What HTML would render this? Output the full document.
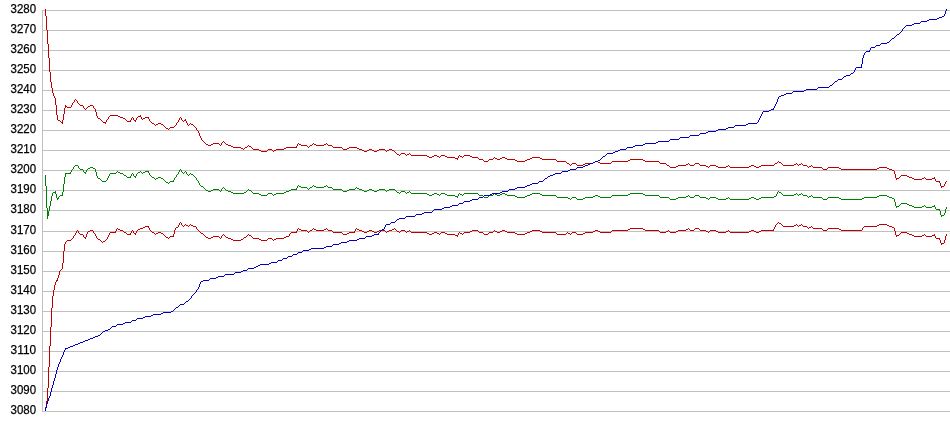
<!DOCTYPE html>
<html><head><meta charset="utf-8"><title>Chart</title>
<style>html,body{margin:0;padding:0;background:#fff;overflow:hidden}body{width:950px;height:435px}</style>
</head><body>
<svg width="950" height="435" viewBox="0 0 950 435" style="display:block">
<rect width="950" height="435" fill="#fff"/>
<g shape-rendering="crispEdges" stroke="#c0c0c0" stroke-width="1" fill="none">
<path d="M42 10.5H950M42 30.5H950M42 50.5H950M42 70.5H950M42 90.5H950M42 110.5H950M42 130.5H950M42 150.5H950M42 170.5H950M42 190.5H950M42 210.5H950M42 231.5H950M42 251.5H950M42 271.5H950M42 291.5H950M42 311.5H950M42 331.5H950M42 351.5H950M42 371.5H950M42 391.5H950M42 411.5H950M42.5 10V412"/>
</g>
<g font-family="'Liberation Sans', Arial, sans-serif" font-size="12" fill="#000" stroke="#000" stroke-width="0.25" style="filter:grayscale(1)">
<text x="10.6" y="13.3" textLength="25.5" lengthAdjust="spacingAndGlyphs">3280</text>
<text x="10.6" y="33.3" textLength="25.5" lengthAdjust="spacingAndGlyphs">3270</text>
<text x="10.6" y="53.3" textLength="25.5" lengthAdjust="spacingAndGlyphs">3260</text>
<text x="10.6" y="73.3" textLength="25.5" lengthAdjust="spacingAndGlyphs">3250</text>
<text x="10.6" y="93.3" textLength="25.5" lengthAdjust="spacingAndGlyphs">3240</text>
<text x="10.6" y="113.3" textLength="25.5" lengthAdjust="spacingAndGlyphs">3230</text>
<text x="10.6" y="133.3" textLength="25.5" lengthAdjust="spacingAndGlyphs">3220</text>
<text x="10.6" y="153.3" textLength="25.5" lengthAdjust="spacingAndGlyphs">3210</text>
<text x="10.6" y="173.3" textLength="25.5" lengthAdjust="spacingAndGlyphs">3200</text>
<text x="10.6" y="193.3" textLength="25.5" lengthAdjust="spacingAndGlyphs">3190</text>
<text x="10.6" y="213.3" textLength="25.5" lengthAdjust="spacingAndGlyphs">3180</text>
<text x="10.6" y="234.3" textLength="25.5" lengthAdjust="spacingAndGlyphs">3170</text>
<text x="10.6" y="254.3" textLength="25.5" lengthAdjust="spacingAndGlyphs">3160</text>
<text x="10.6" y="274.3" textLength="25.5" lengthAdjust="spacingAndGlyphs">3150</text>
<text x="10.6" y="294.3" textLength="25.5" lengthAdjust="spacingAndGlyphs">3140</text>
<text x="10.6" y="314.3" textLength="25.5" lengthAdjust="spacingAndGlyphs">3130</text>
<text x="10.6" y="334.3" textLength="25.5" lengthAdjust="spacingAndGlyphs">3120</text>
<text x="10.6" y="354.3" textLength="25.5" lengthAdjust="spacingAndGlyphs">3110</text>
<text x="10.6" y="374.3" textLength="25.5" lengthAdjust="spacingAndGlyphs">3100</text>
<text x="10.6" y="394.3" textLength="25.5" lengthAdjust="spacingAndGlyphs">3090</text>
<text x="10.6" y="414.3" textLength="25.5" lengthAdjust="spacingAndGlyphs">3080</text>
</g>
<g shape-rendering="crispEdges" fill="none" stroke-width="1">
<path stroke="#c00000" d="M45 9.5h1M45 10.5h1M45 11.5h1M45 12.5h1M45 13.5h1M45 14.5h1M45 15.5h1M46 16.5h1M46 17.5h1M46 18.5h1M46 19.5h1M46 20.5h1M46 21.5h1M46 22.5h1M46 23.5h1M46 24.5h1M46 25.5h1M46 26.5h1M46 27.5h1M46 28.5h1M46 29.5h1M47 30.5h1M47 31.5h1M47 32.5h1M47 33.5h1M47 34.5h1M47 35.5h1M47 36.5h1M47 37.5h1M47 38.5h1M47 39.5h1M47 40.5h1M47 41.5h1M47 42.5h1M47 43.5h1M48 44.5h1M48 45.5h1M48 46.5h1M48 47.5h1M48 48.5h1M48 49.5h1M48 50.5h1M48 51.5h1M48 52.5h1M48 53.5h1M48 54.5h1M48 55.5h1M48 56.5h1M48 57.5h1M49 58.5h1M49 59.5h1M49 60.5h1M49 61.5h1M49 62.5h1M49 63.5h1M49 64.5h1M49 65.5h1M49 66.5h1M49 67.5h1M49 68.5h1M49 69.5h1M49 70.5h1M49 71.5h1M50 72.5h1M50 73.5h1M50 74.5h1M50 75.5h1M50 76.5h1M50 77.5h1M50 78.5h1M50 79.5h1M50 80.5h1M50 81.5h1M51 82.5h1M51 83.5h1M51 84.5h1M51 85.5h1M51 86.5h1M51 87.5h1M52 88.5h1M52 89.5h1M52 90.5h1M52 91.5h1M52 92.5h1M53 93.5h1M53 94.5h1M53 95.5h1M54 96.5h1M54 97.5h1M55 98.5h1M55 99.5h1M75 99.5h1M55 100.5h1M74 100.5h1M76 100.5h1M55 101.5h1M74 101.5h1M77 101.5h1M55 102.5h1M73 102.5h1M77 102.5h1M55 103.5h1M72 103.5h1M78 103.5h1M55 104.5h1M72 104.5h1M79 104.5h1M56 105.5h1M65 105.5h1M71 105.5h1M80 105.5h3M90 105.5h3M56 106.5h1M65 106.5h2M71 106.5h1M83 106.5h1M88 106.5h2M93 106.5h1M56 107.5h1M65 107.5h1M67 107.5h4M83 107.5h1M87 107.5h1M93 107.5h1M56 108.5h1M64 108.5h1M84 108.5h1M86 108.5h1M94 108.5h1M56 109.5h1M64 109.5h1M85 109.5h1M95 109.5h1M56 110.5h1M64 110.5h1M95 110.5h1M56 111.5h1M64 111.5h1M95 111.5h1M56 112.5h1M64 112.5h1M96 112.5h1M56 113.5h1M64 113.5h1M96 113.5h1M56 114.5h1M63 114.5h1M96 114.5h1M57 115.5h1M63 115.5h1M96 115.5h1M110 115.5h8M140 115.5h1M57 116.5h1M63 116.5h1M97 116.5h1M109 116.5h1M118 116.5h2M138 116.5h3M57 117.5h1M63 117.5h1M97 117.5h1M108 117.5h1M120 117.5h3M132 117.5h1M137 117.5h1M141 117.5h1M145 117.5h4M180 117.5h1M57 118.5h1M63 118.5h1M98 118.5h2M108 118.5h1M123 118.5h2M131 118.5h1M133 118.5h1M136 118.5h1M141 118.5h1M143 118.5h2M148 118.5h1M179 118.5h1M181 118.5h1M57 119.5h1M63 119.5h1M100 119.5h1M107 119.5h1M125 119.5h1M131 119.5h1M133 119.5h1M136 119.5h1M142 119.5h1M149 119.5h1M179 119.5h1M181 119.5h1M185 119.5h1M58 120.5h2M62 120.5h1M101 120.5h1M106 120.5h1M126 120.5h1M130 120.5h1M134 120.5h2M149 120.5h1M178 120.5h1M182 120.5h1M184 120.5h2M60 121.5h1M62 121.5h1M102 121.5h1M106 121.5h1M127 121.5h4M135 121.5h1M150 121.5h1M178 121.5h1M183 121.5h1M186 121.5h1M61 122.5h2M103 122.5h3M151 122.5h1M177 122.5h1M186 122.5h1M62 123.5h1M105 123.5h1M152 123.5h2M158 123.5h3M176 123.5h1M187 123.5h1M190 123.5h1M154 124.5h1M156 124.5h2M161 124.5h2M176 124.5h1M187 124.5h1M189 124.5h1M191 124.5h2M155 125.5h1M163 125.5h1M175 125.5h1M188 125.5h1M193 125.5h1M164 126.5h1M174 126.5h1M194 126.5h1M165 127.5h1M170 127.5h4M195 127.5h1M166 128.5h2M169 128.5h1M196 128.5h1M168 129.5h1M196 129.5h1M197 130.5h1M198 131.5h1M198 132.5h1M199 133.5h1M199 134.5h1M199 135.5h1M200 136.5h1M200 137.5h1M201 138.5h1M201 139.5h1M202 140.5h1M203 141.5h1M223 141.5h1M204 142.5h1M222 142.5h1M224 142.5h1M205 143.5h1M213 143.5h6M221 143.5h1M225 143.5h1M298 143.5h1M313 143.5h1M326 143.5h1M206 144.5h2M211 144.5h2M219 144.5h1M221 144.5h1M226 144.5h2M297 144.5h1M299 144.5h2M312 144.5h1M314 144.5h2M324 144.5h2M327 144.5h1M208 145.5h3M220 145.5h1M228 145.5h3M248 145.5h1M297 145.5h1M301 145.5h6M310 145.5h2M316 145.5h8M328 145.5h4M231 146.5h2M247 146.5h1M249 146.5h2M296 146.5h1M307 146.5h1M309 146.5h1M332 146.5h1M233 147.5h8M245 147.5h2M251 147.5h1M286 147.5h11M308 147.5h1M333 147.5h9M349 147.5h8M241 148.5h2M244 148.5h1M252 148.5h1M284 148.5h2M342 148.5h1M347 148.5h2M357 148.5h2M243 149.5h1M253 149.5h6M268 149.5h4M276 149.5h8M343 149.5h4M359 149.5h3M369 149.5h3M379 149.5h6M389 149.5h3M259 150.5h2M267 150.5h1M272 150.5h1M274 150.5h2M362 150.5h2M367 150.5h2M372 150.5h2M377 150.5h2M385 150.5h1M387 150.5h2M392 150.5h2M261 151.5h6M273 151.5h1M364 151.5h3M374 151.5h3M386 151.5h1M394 151.5h1M395 152.5h1M396 153.5h1M401 153.5h4M409 153.5h1M397 154.5h2M400 154.5h1M405 154.5h1M407 154.5h2M410 154.5h1M399 155.5h1M406 155.5h1M411 155.5h16M434 155.5h3M441 155.5h4M459 155.5h1M464 155.5h6M427 156.5h2M432 156.5h2M437 156.5h2M440 156.5h1M445 156.5h2M458 156.5h1M460 156.5h2M463 156.5h1M470 156.5h2M429 157.5h3M439 157.5h1M447 157.5h8M458 157.5h1M462 157.5h1M472 157.5h6M494 157.5h1M502 157.5h3M532 157.5h8M455 158.5h3M478 158.5h1M493 158.5h1M495 158.5h2M500 158.5h2M505 158.5h2M530 158.5h2M540 158.5h2M457 159.5h1M479 159.5h4M489 159.5h4M497 159.5h3M507 159.5h8M527 159.5h3M542 159.5h14M630 159.5h13M483 160.5h1M488 160.5h1M515 160.5h2M525 160.5h2M556 160.5h1M628 160.5h2M643 160.5h2M484 161.5h4M517 161.5h8M557 161.5h9M595 161.5h3M612 161.5h16M645 161.5h14M778 161.5h1M566 162.5h1M593 162.5h2M598 162.5h2M611 162.5h1M659 162.5h1M777 162.5h1M779 162.5h2M567 163.5h2M572 163.5h4M585 163.5h8M600 163.5h11M660 163.5h6M688 163.5h1M695 163.5h4M775 163.5h2M781 163.5h1M796 163.5h1M801 163.5h1M569 164.5h1M571 164.5h1M576 164.5h1M583 164.5h2M666 164.5h1M686 164.5h2M689 164.5h1M694 164.5h1M699 164.5h1M774 164.5h1M782 164.5h1M794 164.5h2M797 164.5h1M799 164.5h2M802 164.5h1M570 165.5h1M577 165.5h6M667 165.5h2M678 165.5h8M690 165.5h4M700 165.5h6M710 165.5h6M728 165.5h1M751 165.5h3M761 165.5h13M783 165.5h11M798 165.5h1M803 165.5h4M811 165.5h1M669 166.5h1M676 166.5h2M706 166.5h2M709 166.5h1M716 166.5h2M726 166.5h2M729 166.5h1M749 166.5h2M754 166.5h2M759 166.5h2M807 166.5h1M809 166.5h2M812 166.5h1M670 167.5h6M708 167.5h1M718 167.5h8M730 167.5h19M756 167.5h3M808 167.5h1M813 167.5h9M828 167.5h11M879 167.5h8M822 168.5h1M827 168.5h1M839 168.5h2M877 168.5h2M887 168.5h2M823 169.5h4M841 169.5h36M889 169.5h3M892 170.5h2M894 171.5h1M894 172.5h1M894 173.5h1M895 174.5h1M895 175.5h1M901 175.5h6M895 176.5h1M900 176.5h1M907 176.5h2M895 177.5h1M899 177.5h1M909 177.5h3M924 177.5h1M934 177.5h1M896 178.5h3M912 178.5h2M922 178.5h2M925 178.5h1M932 178.5h3M896 179.5h1M914 179.5h8M926 179.5h6M935 179.5h1M935 180.5h1M936 181.5h4M946 181.5h1M939 182.5h1M945 182.5h1M940 183.5h1M945 183.5h1M940 184.5h1M944 184.5h1M940 185.5h1M944 185.5h1M941 186.5h3M941 187.5h1M180 222.5h1M778 222.5h1M179 223.5h1M181 223.5h1M777 223.5h1M779 223.5h2M179 224.5h1M181 224.5h1M185 224.5h1M190 224.5h1M776 224.5h1M781 224.5h1M796 224.5h1M801 224.5h1M879 224.5h8M178 225.5h1M182 225.5h1M184 225.5h1M186 225.5h2M189 225.5h1M191 225.5h2M775 225.5h1M782 225.5h1M794 225.5h2M797 225.5h1M799 225.5h2M802 225.5h1M877 225.5h2M887 225.5h2M145 226.5h4M178 226.5h1M183 226.5h1M188 226.5h1M193 226.5h3M775 226.5h1M783 226.5h11M798 226.5h1M803 226.5h4M811 226.5h1M864 226.5h13M889 226.5h3M143 227.5h2M148 227.5h1M176 227.5h2M196 227.5h1M774 227.5h1M807 227.5h1M809 227.5h2M812 227.5h1M863 227.5h1M892 227.5h2M117 228.5h1M140 228.5h3M149 228.5h1M175 228.5h1M196 228.5h1M298 228.5h1M313 228.5h1M326 228.5h1M356 228.5h1M394 228.5h1M630 228.5h13M688 228.5h1M695 228.5h4M774 228.5h1M808 228.5h1M813 228.5h9M828 228.5h11M862 228.5h1M894 228.5h1M116 229.5h1M118 229.5h2M138 229.5h2M149 229.5h1M175 229.5h1M197 229.5h1M297 229.5h1M299 229.5h2M312 229.5h1M314 229.5h2M324 229.5h2M327 229.5h1M355 229.5h1M357 229.5h2M392 229.5h2M395 229.5h1M628 229.5h2M643 229.5h2M686 229.5h2M689 229.5h1M694 229.5h1M699 229.5h1M773 229.5h1M822 229.5h1M827 229.5h1M839 229.5h2M862 229.5h1M894 229.5h1M77 230.5h1M90 230.5h3M116 230.5h1M120 230.5h3M132 230.5h1M137 230.5h1M150 230.5h1M174 230.5h1M198 230.5h1M297 230.5h1M301 230.5h6M310 230.5h2M316 230.5h8M328 230.5h4M355 230.5h1M359 230.5h3M369 230.5h3M379 230.5h6M389 230.5h3M396 230.5h1M401 230.5h4M409 230.5h1M472 230.5h6M494 230.5h1M502 230.5h3M532 230.5h8M595 230.5h3M612 230.5h16M645 230.5h14M668 230.5h1M678 230.5h8M690 230.5h4M700 230.5h6M710 230.5h6M728 230.5h1M751 230.5h3M761 230.5h13M823 230.5h4M841 230.5h21M894 230.5h1M76 231.5h1M78 231.5h1M88 231.5h2M93 231.5h1M115 231.5h1M123 231.5h1M131 231.5h1M133 231.5h1M136 231.5h1M151 231.5h1M174 231.5h1M199 231.5h1M296 231.5h1M307 231.5h1M309 231.5h1M332 231.5h1M354 231.5h1M362 231.5h2M367 231.5h2M372 231.5h2M377 231.5h2M385 231.5h1M387 231.5h2M397 231.5h2M400 231.5h1M405 231.5h1M407 231.5h2M410 231.5h1M470 231.5h2M478 231.5h1M493 231.5h1M495 231.5h2M500 231.5h2M505 231.5h2M530 231.5h2M540 231.5h2M593 231.5h2M598 231.5h2M611 231.5h1M659 231.5h1M666 231.5h2M669 231.5h1M676 231.5h2M706 231.5h2M709 231.5h1M716 231.5h2M726 231.5h2M729 231.5h1M749 231.5h2M754 231.5h2M759 231.5h2M895 231.5h1M76 232.5h1M78 232.5h1M87 232.5h1M93 232.5h1M110 232.5h6M124 232.5h2M131 232.5h1M133 232.5h1M136 232.5h1M152 232.5h2M158 232.5h3M174 232.5h1M200 232.5h1M291 232.5h6M308 232.5h1M333 232.5h9M349 232.5h6M364 232.5h3M374 232.5h3M386 232.5h1M399 232.5h1M406 232.5h1M411 232.5h16M434 232.5h3M441 232.5h4M459 232.5h1M464 232.5h6M479 232.5h4M489 232.5h4M497 232.5h3M507 232.5h8M527 232.5h3M542 232.5h14M567 232.5h1M572 232.5h4M585 232.5h8M600 232.5h11M660 232.5h6M670 232.5h6M708 232.5h1M718 232.5h8M730 232.5h19M756 232.5h3M895 232.5h1M901 232.5h6M75 233.5h1M79 233.5h1M87 233.5h1M94 233.5h1M109 233.5h1M126 233.5h1M130 233.5h1M134 233.5h2M154 233.5h1M156 233.5h2M161 233.5h2M174 233.5h1M201 233.5h2M290 233.5h1M342 233.5h1M347 233.5h2M427 233.5h2M432 233.5h2M437 233.5h2M440 233.5h1M445 233.5h2M458 233.5h1M460 233.5h2M463 233.5h1M483 233.5h1M488 233.5h1M515 233.5h2M525 233.5h2M556 233.5h1M566 233.5h1M568 233.5h2M571 233.5h1M576 233.5h1M583 233.5h2M895 233.5h1M900 233.5h1M907 233.5h2M75 234.5h1M80 234.5h3M86 234.5h1M95 234.5h1M109 234.5h1M127 234.5h4M135 234.5h1M155 234.5h1M163 234.5h1M173 234.5h1M203 234.5h1M223 234.5h1M248 234.5h1M289 234.5h1M343 234.5h4M429 234.5h3M439 234.5h1M447 234.5h8M458 234.5h1M462 234.5h1M484 234.5h4M517 234.5h8M557 234.5h9M570 234.5h1M577 234.5h6M895 234.5h1M899 234.5h1M909 234.5h3M924 234.5h1M934 234.5h1M946 234.5h1M74 235.5h1M83 235.5h1M86 235.5h1M95 235.5h1M108 235.5h1M164 235.5h1M173 235.5h1M204 235.5h1M222 235.5h1M224 235.5h1M247 235.5h1M249 235.5h2M289 235.5h1M455 235.5h3M896 235.5h3M912 235.5h2M922 235.5h2M925 235.5h1M932 235.5h3M946 235.5h1M73 236.5h1M83 236.5h1M86 236.5h1M96 236.5h1M108 236.5h1M165 236.5h1M170 236.5h4M205 236.5h1M213 236.5h6M221 236.5h1M225 236.5h1M246 236.5h1M251 236.5h1M286 236.5h3M457 236.5h1M896 236.5h1M914 236.5h8M926 236.5h6M935 236.5h1M945 236.5h1M73 237.5h1M84 237.5h2M96 237.5h1M107 237.5h1M166 237.5h2M169 237.5h1M206 237.5h2M211 237.5h2M219 237.5h1M221 237.5h1M226 237.5h2M244 237.5h2M252 237.5h1M284 237.5h2M935 237.5h1M945 237.5h1M72 238.5h1M85 238.5h1M97 238.5h1M107 238.5h1M168 238.5h1M208 238.5h3M220 238.5h1M228 238.5h3M243 238.5h1M253 238.5h6M268 238.5h4M276 238.5h8M936 238.5h4M945 238.5h1M71 239.5h1M98 239.5h2M106 239.5h1M231 239.5h2M241 239.5h2M259 239.5h2M267 239.5h1M272 239.5h1M274 239.5h2M939 239.5h1M945 239.5h1M67 240.5h4M100 240.5h1M105 240.5h1M233 240.5h8M261 240.5h6M273 240.5h1M940 240.5h1M944 240.5h1M66 241.5h1M101 241.5h1M103 241.5h2M940 241.5h1M944 241.5h1M65 242.5h1M102 242.5h1M940 242.5h1M944 242.5h1M65 243.5h1M941 243.5h3M64 244.5h1M941 244.5h1M64 245.5h1M64 246.5h1M64 247.5h1M64 248.5h1M64 249.5h1M64 250.5h1M63 251.5h1M63 252.5h1M63 253.5h1M63 254.5h1M63 255.5h1M63 256.5h1M63 257.5h1M63 258.5h1M63 259.5h1M63 260.5h1M63 261.5h1M63 262.5h1M62 263.5h1M62 264.5h1M62 265.5h1M62 266.5h1M62 267.5h1M62 268.5h1M61 269.5h1M60 270.5h1M59 271.5h1M59 272.5h1M59 273.5h1M59 274.5h1M58 275.5h1M58 276.5h1M58 277.5h1M57 278.5h1M57 279.5h1M56 280.5h2M56 281.5h1M55 282.5h1M55 283.5h1M55 284.5h1M54 285.5h1M54 286.5h1M54 287.5h1M54 288.5h1M54 289.5h1M53 290.5h1M53 291.5h1M53 292.5h1M53 293.5h1M53 294.5h1M53 295.5h1M52 296.5h1M52 297.5h1M52 298.5h1M52 299.5h1M52 300.5h1M52 301.5h1M52 302.5h1M52 303.5h1M52 304.5h1M52 305.5h1M52 306.5h1M52 307.5h1M51 308.5h1M51 309.5h1M51 310.5h1M51 311.5h1M51 312.5h1M51 313.5h1M51 314.5h1M51 315.5h1M51 316.5h1M51 317.5h1M51 318.5h1M51 319.5h1M51 320.5h1M51 321.5h1M51 322.5h1M51 323.5h1M51 324.5h1M51 325.5h1M51 326.5h1M50 327.5h1M50 328.5h1M50 329.5h1M50 330.5h1M50 331.5h1M50 332.5h1M50 333.5h1M50 334.5h1M50 335.5h1M50 336.5h1M50 337.5h1M50 338.5h1M50 339.5h1M50 340.5h1M50 341.5h1M50 342.5h1M50 343.5h1M50 344.5h1M50 345.5h1M49 346.5h1M49 347.5h1M49 348.5h1M49 349.5h1M49 350.5h1M49 351.5h1M49 352.5h1M49 353.5h1M49 354.5h1M49 355.5h1M49 356.5h1M49 357.5h1M49 358.5h1M49 359.5h1M49 360.5h1M49 361.5h1M49 362.5h1M49 363.5h1M49 364.5h1M49 365.5h1M49 366.5h1M48 367.5h1M48 368.5h1M48 369.5h1M48 370.5h1M48 371.5h1M48 372.5h1M48 373.5h1M48 374.5h1M48 375.5h1M48 376.5h1M48 377.5h1M48 378.5h1M48 379.5h1M48 380.5h1M48 381.5h1M48 382.5h1M48 383.5h1M48 384.5h1M48 385.5h1M48 386.5h1M48 387.5h1M47 388.5h1M47 389.5h1M47 390.5h1M47 391.5h1M47 392.5h1M47 393.5h1M47 394.5h1M47 395.5h1M47 396.5h1M47 397.5h1M47 398.5h1M47 399.5h1M47 400.5h1M46 401.5h1M46 402.5h1M46 403.5h1M46 404.5h1M46 405.5h1M46 406.5h1M45 407.5h1M45 408.5h1M45 409.5h1M45 410.5h1"/>
<path stroke="#008000" d="M75 165.5h3M74 166.5h1M78 166.5h1M73 167.5h1M78 167.5h1M90 167.5h3M73 168.5h1M79 168.5h1M88 168.5h2M93 168.5h2M72 169.5h1M80 169.5h3M87 169.5h1M95 169.5h1M180 169.5h1M71 170.5h1M83 170.5h1M86 170.5h1M95 170.5h1M179 170.5h1M181 170.5h1M71 171.5h1M83 171.5h1M86 171.5h1M95 171.5h1M117 171.5h1M140 171.5h1M145 171.5h4M179 171.5h1M181 171.5h1M185 171.5h1M70 172.5h1M84 172.5h2M96 172.5h1M116 172.5h1M118 172.5h2M138 172.5h2M141 172.5h1M143 172.5h2M148 172.5h1M178 172.5h1M182 172.5h1M184 172.5h1M186 172.5h1M65 173.5h6M85 173.5h1M96 173.5h1M110 173.5h6M120 173.5h3M132 173.5h1M137 173.5h1M142 173.5h1M149 173.5h1M178 173.5h1M183 173.5h1M186 173.5h1M190 173.5h1M65 174.5h1M96 174.5h1M109 174.5h1M123 174.5h1M131 174.5h1M133 174.5h1M136 174.5h1M149 174.5h1M177 174.5h1M187 174.5h1M189 174.5h1M191 174.5h2M45 175.5h1M65 175.5h1M96 175.5h1M109 175.5h1M124 175.5h2M131 175.5h1M133 175.5h1M136 175.5h1M150 175.5h1M176 175.5h1M188 175.5h1M193 175.5h1M45 176.5h1M65 176.5h1M97 176.5h1M108 176.5h1M126 176.5h1M130 176.5h1M134 176.5h2M151 176.5h1M176 176.5h1M194 176.5h1M45 177.5h1M64 177.5h1M97 177.5h1M108 177.5h1M127 177.5h4M135 177.5h1M152 177.5h2M158 177.5h3M175 177.5h1M195 177.5h1M45 178.5h1M64 178.5h1M98 178.5h2M107 178.5h1M154 178.5h1M156 178.5h2M161 178.5h2M174 178.5h1M196 178.5h1M45 179.5h1M64 179.5h1M100 179.5h1M107 179.5h1M155 179.5h1M163 179.5h1M174 179.5h1M196 179.5h1M45 180.5h1M64 180.5h1M101 180.5h1M106 180.5h1M164 180.5h1M173 180.5h1M197 180.5h1M45 181.5h1M64 181.5h1M102 181.5h4M165 181.5h1M170 181.5h4M198 181.5h1M45 182.5h1M64 182.5h1M166 182.5h2M169 182.5h1M198 182.5h1M45 183.5h1M64 183.5h1M168 183.5h1M199 183.5h1M45 184.5h1M63 184.5h1M199 184.5h1M45 185.5h1M63 185.5h1M200 185.5h1M298 185.5h1M313 185.5h1M326 185.5h1M46 186.5h1M63 186.5h1M201 186.5h2M297 186.5h1M299 186.5h2M312 186.5h1M314 186.5h2M324 186.5h2M327 186.5h1M46 187.5h1M63 187.5h1M203 187.5h1M223 187.5h1M297 187.5h1M301 187.5h6M310 187.5h2M316 187.5h8M328 187.5h4M356 187.5h1M46 188.5h1M63 188.5h1M204 188.5h1M222 188.5h1M224 188.5h1M296 188.5h1M307 188.5h1M309 188.5h1M332 188.5h1M355 188.5h1M357 188.5h2M46 189.5h1M63 189.5h1M205 189.5h1M213 189.5h6M221 189.5h1M225 189.5h1M248 189.5h1M291 189.5h6M308 189.5h1M333 189.5h9M349 189.5h6M359 189.5h3M369 189.5h3M379 189.5h6M389 189.5h6M46 190.5h1M63 190.5h1M206 190.5h2M211 190.5h2M219 190.5h1M221 190.5h1M226 190.5h2M247 190.5h1M249 190.5h2M289 190.5h2M342 190.5h1M347 190.5h2M362 190.5h2M367 190.5h2M372 190.5h2M377 190.5h2M385 190.5h1M387 190.5h2M395 190.5h1M46 191.5h1M55 191.5h1M63 191.5h1M208 191.5h3M220 191.5h1M228 191.5h3M246 191.5h1M251 191.5h1M286 191.5h3M343 191.5h4M364 191.5h3M374 191.5h3M386 191.5h1M396 191.5h1M401 191.5h4M409 191.5h1M778 191.5h1M46 192.5h1M53 192.5h3M62 192.5h1M231 192.5h2M244 192.5h2M252 192.5h1M284 192.5h2M397 192.5h2M400 192.5h1M405 192.5h1M407 192.5h2M410 192.5h1M777 192.5h1M779 192.5h2M46 193.5h1M52 193.5h1M55 193.5h1M62 193.5h1M233 193.5h11M253 193.5h6M268 193.5h4M276 193.5h8M399 193.5h1M406 193.5h1M411 193.5h16M434 193.5h3M441 193.5h4M459 193.5h1M464 193.5h14M494 193.5h1M502 193.5h3M532 193.5h8M630 193.5h13M777 193.5h1M781 193.5h1M796 193.5h1M801 193.5h1M46 194.5h1M52 194.5h1M56 194.5h1M62 194.5h1M259 194.5h2M267 194.5h1M272 194.5h1M274 194.5h2M427 194.5h2M432 194.5h2M437 194.5h2M440 194.5h1M445 194.5h2M458 194.5h1M460 194.5h2M463 194.5h1M478 194.5h1M493 194.5h1M495 194.5h2M500 194.5h2M505 194.5h2M530 194.5h2M540 194.5h2M628 194.5h2M643 194.5h2M776 194.5h1M782 194.5h1M794 194.5h2M797 194.5h1M799 194.5h2M802 194.5h1M46 195.5h1M52 195.5h1M56 195.5h1M60 195.5h3M261 195.5h6M273 195.5h1M429 195.5h3M439 195.5h1M447 195.5h8M458 195.5h1M462 195.5h1M479 195.5h4M489 195.5h4M497 195.5h3M507 195.5h8M527 195.5h3M542 195.5h14M595 195.5h3M612 195.5h16M645 195.5h14M688 195.5h1M695 195.5h4M776 195.5h1M783 195.5h11M798 195.5h1M803 195.5h4M811 195.5h1M879 195.5h8M46 196.5h1M51 196.5h1M56 196.5h1M59 196.5h1M455 196.5h3M483 196.5h1M488 196.5h1M515 196.5h2M525 196.5h2M556 196.5h1M593 196.5h2M598 196.5h2M611 196.5h1M659 196.5h1M686 196.5h2M689 196.5h1M694 196.5h1M699 196.5h1M774 196.5h2M807 196.5h1M809 196.5h2M812 196.5h1M877 196.5h2M887 196.5h2M46 197.5h1M51 197.5h1M56 197.5h1M58 197.5h1M457 197.5h1M484 197.5h4M517 197.5h8M557 197.5h11M572 197.5h4M585 197.5h8M600 197.5h11M660 197.5h9M678 197.5h8M690 197.5h4M700 197.5h6M710 197.5h6M728 197.5h1M751 197.5h3M761 197.5h13M808 197.5h1M813 197.5h9M828 197.5h11M864 197.5h13M889 197.5h3M46 198.5h1M51 198.5h1M57 198.5h2M568 198.5h2M571 198.5h1M576 198.5h1M583 198.5h2M669 198.5h1M676 198.5h2M706 198.5h2M709 198.5h1M716 198.5h2M726 198.5h2M729 198.5h1M749 198.5h2M754 198.5h2M759 198.5h2M822 198.5h1M827 198.5h1M839 198.5h2M862 198.5h2M892 198.5h2M46 199.5h1M51 199.5h1M57 199.5h1M570 199.5h1M577 199.5h6M670 199.5h6M708 199.5h1M718 199.5h8M730 199.5h19M756 199.5h3M823 199.5h4M841 199.5h21M894 199.5h1M46 200.5h1M51 200.5h1M894 200.5h1M46 201.5h1M50 201.5h1M894 201.5h1M46 202.5h1M50 202.5h1M895 202.5h1M46 203.5h1M50 203.5h1M895 203.5h1M901 203.5h6M46 204.5h1M50 204.5h1M895 204.5h1M900 204.5h1M907 204.5h2M46 205.5h1M50 205.5h1M895 205.5h1M899 205.5h1M909 205.5h3M924 205.5h1M934 205.5h1M46 206.5h1M49 206.5h1M896 206.5h3M912 206.5h2M922 206.5h2M925 206.5h1M932 206.5h3M46 207.5h1M49 207.5h1M896 207.5h1M914 207.5h8M926 207.5h6M935 207.5h1M946 207.5h1M47 208.5h1M49 208.5h1M935 208.5h1M946 208.5h1M47 209.5h1M49 209.5h1M936 209.5h4M945 209.5h1M47 210.5h1M49 210.5h1M939 210.5h1M945 210.5h1M47 211.5h2M940 211.5h1M945 211.5h1M47 212.5h2M940 212.5h1M945 212.5h1M47 213.5h2M940 213.5h1M944 213.5h1M47 214.5h2M940 214.5h1M944 214.5h1M47 215.5h2M941 215.5h3M47 216.5h1M941 216.5h1M47 217.5h1M47 218.5h1"/>
<path stroke="#0000c0" d="M946 9.5h1M946 10.5h1M945 11.5h1M945 12.5h1M945 13.5h1M944 14.5h1M944 15.5h1M942 16.5h2M939 17.5h3M937 18.5h2M929 19.5h8M927 20.5h2M921 21.5h6M920 22.5h1M914 23.5h6M912 24.5h2M906 25.5h6M905 26.5h1M904 27.5h1M903 28.5h1M902 29.5h1M902 30.5h1M901 31.5h1M900 32.5h1M899 33.5h1M897 34.5h2M896 35.5h1M895 36.5h1M894 37.5h1M892 38.5h2M891 39.5h1M890 40.5h1M889 41.5h1M887 42.5h2M881 43.5h6M880 44.5h1M876 45.5h4M875 46.5h1M871 47.5h4M870 48.5h1M870 49.5h1M869 50.5h1M866 51.5h4M865 52.5h1M864 53.5h1M864 54.5h1M863 55.5h1M863 56.5h1M863 57.5h1M862 58.5h1M862 59.5h1M862 60.5h1M862 61.5h1M862 62.5h1M862 63.5h1M861 64.5h1M861 65.5h1M861 66.5h1M856 67.5h6M855 68.5h1M855 69.5h1M854 70.5h1M854 71.5h1M853 72.5h1M851 73.5h2M850 74.5h1M846 75.5h4M844 76.5h2M843 77.5h1M842 78.5h1M838 79.5h4M837 80.5h1M835 81.5h2M834 82.5h1M833 83.5h1M832 84.5h1M830 85.5h2M829 86.5h1M818 87.5h11M817 88.5h1M806 89.5h11M804 90.5h2M793 91.5h11M792 92.5h1M786 93.5h6M784 94.5h2M781 95.5h3M779 96.5h2M778 97.5h1M778 98.5h1M777 99.5h1M777 100.5h1M777 101.5h1M776 102.5h1M776 103.5h1M775 104.5h1M775 105.5h1M774 106.5h1M774 107.5h1M773 108.5h1M771 109.5h3M769 110.5h2M763 111.5h6M762 112.5h1M762 113.5h1M761 114.5h1M761 115.5h1M760 116.5h1M760 117.5h1M759 118.5h1M759 119.5h1M758 120.5h1M758 121.5h1M757 122.5h1M748 123.5h9M746 124.5h2M735 125.5h11M734 126.5h1M728 127.5h6M726 128.5h2M718 129.5h8M716 130.5h2M708 131.5h8M706 132.5h2M700 133.5h6M699 134.5h1M690 135.5h9M689 136.5h1M680 137.5h9M679 138.5h1M670 139.5h9M669 140.5h1M658 141.5h11M656 142.5h2M645 143.5h11M643 144.5h2M635 145.5h8M633 146.5h2M627 147.5h6M626 148.5h1M620 149.5h6M618 150.5h2M615 151.5h3M613 152.5h2M607 153.5h6M606 154.5h1M605 155.5h1M603 156.5h2M602 157.5h1M601 158.5h1M600 159.5h1M598 160.5h2M595 161.5h3M593 162.5h2M590 163.5h3M588 164.5h2M585 165.5h3M583 166.5h2M577 167.5h6M576 168.5h1M570 169.5h6M568 170.5h2M562 171.5h6M561 172.5h1M555 173.5h6M553 174.5h2M550 175.5h3M548 176.5h2M547 177.5h1M545 178.5h2M544 179.5h1M543 180.5h1M539 181.5h4M538 182.5h1M532 183.5h6M530 184.5h2M527 185.5h3M525 186.5h2M517 187.5h8M515 188.5h2M509 189.5h6M508 190.5h1M502 191.5h6M500 192.5h2M492 193.5h8M490 194.5h2M484 195.5h6M483 196.5h1M479 197.5h4M478 198.5h1M472 199.5h6M470 200.5h2M464 201.5h6M463 202.5h1M459 203.5h4M458 204.5h1M452 205.5h6M450 206.5h2M444 207.5h6M442 208.5h2M434 209.5h8M433 210.5h1M432 211.5h1M424 212.5h8M422 213.5h2M416 214.5h6M415 215.5h1M406 216.5h9M405 217.5h1M399 218.5h6M397 219.5h2M396 220.5h1M395 221.5h1M391 222.5h4M390 223.5h1M386 224.5h4M385 225.5h1M385 226.5h1M384 227.5h1M384 228.5h1M382 229.5h2M381 230.5h1M380 231.5h1M379 232.5h1M378 233.5h1M374 234.5h5M372 235.5h2M366 236.5h6M365 237.5h1M359 238.5h6M357 239.5h2M349 240.5h8M347 241.5h2M341 242.5h6M339 243.5h2M333 244.5h6M332 245.5h1M326 246.5h6M324 247.5h2M311 248.5h13M309 249.5h2M303 250.5h6M302 251.5h1M298 252.5h4M297 253.5h1M293 254.5h4M292 255.5h1M288 256.5h4M287 257.5h1M283 258.5h4M282 259.5h1M278 260.5h4M277 261.5h1M271 262.5h6M269 263.5h2M260 264.5h9M258 265.5h2M256 266.5h2M254 267.5h2M248 268.5h6M247 269.5h1M243 270.5h4M241 271.5h2M235 272.5h6M234 273.5h1M225 274.5h9M224 275.5h1M218 276.5h6M216 277.5h2M210 278.5h6M209 279.5h1M203 280.5h6M201 281.5h2M200 282.5h1M200 283.5h1M199 284.5h1M199 285.5h1M199 286.5h1M198 287.5h1M198 288.5h1M197 289.5h1M196 290.5h1M196 291.5h1M195 292.5h1M194 293.5h1M193 294.5h1M192 295.5h1M191 296.5h1M191 297.5h1M190 298.5h1M189 299.5h1M188 300.5h1M186 301.5h2M185 302.5h1M184 303.5h1M180 304.5h4M179 305.5h1M178 306.5h1M176 307.5h2M175 308.5h1M174 309.5h1M173 310.5h1M171 311.5h2M163 312.5h8M161 313.5h2M153 314.5h8M151 315.5h2M145 316.5h6M143 317.5h2M137 318.5h6M136 319.5h1M132 320.5h4M131 321.5h1M125 322.5h6M123 323.5h2M117 324.5h6M116 325.5h1M112 326.5h4M111 327.5h1M110 328.5h1M108 329.5h2M105 330.5h3M103 331.5h2M102 332.5h1M101 333.5h1M100 334.5h1M98 335.5h2M95 336.5h3M93 337.5h2M90 338.5h3M88 339.5h2M85 340.5h3M83 341.5h2M80 342.5h3M78 343.5h2M75 344.5h3M73 345.5h2M70 346.5h3M68 347.5h2M65 348.5h3M65 349.5h1M64 350.5h1M64 351.5h1M63 352.5h1M63 353.5h1M63 354.5h1M62 355.5h1M62 356.5h1M61 357.5h1M61 358.5h1M60 359.5h1M60 360.5h1M60 361.5h1M59 362.5h1M59 363.5h1M58 364.5h1M58 365.5h1M58 366.5h1M57 367.5h1M57 368.5h1M57 369.5h1M56 370.5h1M56 371.5h1M56 372.5h1M56 373.5h1M55 374.5h1M55 375.5h1M55 376.5h1M55 377.5h1M54 378.5h1M54 379.5h1M54 380.5h1M53 381.5h1M53 382.5h1M53 383.5h1M53 384.5h1M52 385.5h1M52 386.5h1M52 387.5h1M51 388.5h1M51 389.5h1M51 390.5h1M51 391.5h1M50 392.5h1M50 393.5h1M50 394.5h1M50 395.5h1M49 396.5h1M49 397.5h1M48 398.5h1M48 399.5h1M48 400.5h1M47 401.5h1M47 402.5h1M47 403.5h1M46 404.5h1M46 405.5h1M46 406.5h1M46 407.5h1M45 408.5h1M45 409.5h1M45 410.5h1"/>
</g>
</svg>
</body></html>
